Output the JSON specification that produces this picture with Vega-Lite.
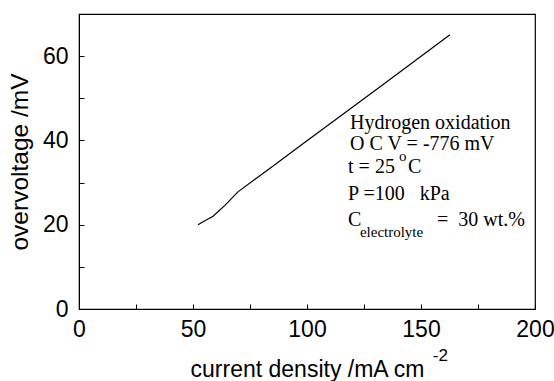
{
  "$schema": "https://vega.github.io/schema/vega-lite/v6.json",
  "width": 456,
  "height": 295,
  "autosize": {"type": "none"},
  "padding": {"left": 79, "top": 14, "right": 19, "bottom": 72},
  "background": "white",
  "config": {
    "view": {"stroke": "black", "strokeWidth": 1.2},
    "axis": {
      "domainColor": "black",
      "tickColor": "black",
      "labelColor": "black",
      "titleColor": "black",
      "labelFont": "Liberation Sans",
      "titleFont": "Liberation Sans",
      "labelFontSize": 23,
      "titleFontSize": 23,
      "titleFontWeight": "normal",
      "grid": false,
      "tickSize": -5
    }
  },
  "datasets": {
    "curve": [
      {"j": 52.2, "eta": 20.0},
      {"j": 55.0, "eta": 20.9},
      {"j": 58.8, "eta": 22.0},
      {"j": 64.0, "eta": 24.6},
      {"j": 69.7, "eta": 27.8},
      {"j": 83.8, "eta": 33.4},
      {"j": 100.0, "eta": 39.9},
      {"j": 130.0, "eta": 51.9},
      {"j": 162.7, "eta": 65.1}
    ],
    "notes": [
      {"x": 118.9, "y": 42.7, "label": "Hydrogen oxidation"},
      {"x": 118.9, "y": 37.7, "label": "O C V = -776 mV"},
      {"x": 118.0, "y": 32.3, "label": "t = 25"},
      {"x": 144.3, "y": 32.3, "label": "C"},
      {"x": 118.0, "y": 25.9, "label": "P =100\u00a0\u00a0\u00a0kPa"},
      {"x": 118.0, "y": 19.7, "label": "C"},
      {"x": 157.0, "y": 19.7, "label": "= \u00a030 wt.%"}
    ],
    "smallnotes": [
      {"x": 140.3, "y": 35.1, "label": "o"},
      {"x": 123.2, "y": 17.1, "label": "electrolyte"}
    ],
    "unit": [
      {"x": 155.2, "y": -12.4, "label": "-2"}
    ]
  },
  "layer": [
    {
      "data": {"name": "curve"},
      "mark": {"type": "line", "color": "black", "strokeWidth": 1.2},
      "encoding": {
        "x": {
          "field": "j", "type": "quantitative",
          "scale": {"domain": [0, 200], "nice": false},
          "axis": {
            "title": "current density /mA cm",
            "values": [0, 25, 50, 75, 100, 125, 150, 175, 200],
            "labelExpr": "datum.value % 50 === 0 ? datum.label : ''",
            "labelPadding": 14,
            "titlePadding": 17,
            "labelFlush": false
          }
        },
        "y": {
          "field": "eta", "type": "quantitative",
          "scale": {"domain": [0, 70], "nice": false},
          "axis": {
            "title": "overvoltage /mV",
            "titleFontSize": 24.5,
            "values": [0, 10, 20, 30, 40, 50, 60, 70],
            "labelExpr": "datum.value % 20 === 0 ? datum.label : ''",
            "labelPadding": 16,
            "titlePadding": 10,
            "labelFlush": false
          }
        }
      }
    },
    {
      "data": {"name": "notes"},
      "mark": {"type": "text", "align": "left", "baseline": "alphabetic", "font": "Liberation Serif", "fontSize": 20, "color": "black"},
      "encoding": {
        "x": {"field": "x", "type": "quantitative"},
        "y": {"field": "y", "type": "quantitative"},
        "text": {"field": "label"}
      }
    },
    {
      "data": {"name": "smallnotes"},
      "mark": {"type": "text", "align": "left", "baseline": "alphabetic", "font": "Liberation Serif", "fontSize": 15, "color": "black"},
      "encoding": {
        "x": {"field": "x", "type": "quantitative"},
        "y": {"field": "y", "type": "quantitative"},
        "text": {"field": "label"}
      }
    },
    {
      "data": {"name": "unit"},
      "mark": {"type": "text", "align": "left", "baseline": "alphabetic", "font": "Liberation Sans", "fontSize": 17, "color": "black"},
      "encoding": {
        "x": {"field": "x", "type": "quantitative"},
        "y": {"field": "y", "type": "quantitative"},
        "text": {"field": "label"}
      }
    }
  ]
}
